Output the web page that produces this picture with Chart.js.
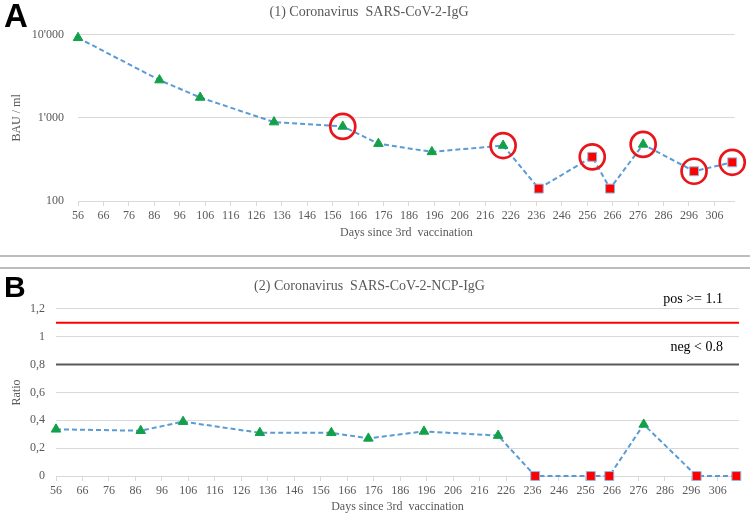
<!DOCTYPE html>
<html>
<head>
<meta charset="utf-8">
<script src="https://cdn.jsdelivr.net/npm/chart.js@4.4.1/dist/chart.umd.min.js"></script>
<style>
  html, body { margin: 0; padding: 0; background: #ffffff; }
  #wrap { position: relative; width: 750px; height: 517px; overflow: hidden; background: #fff; }
  canvas { position: absolute; left: 0; }
  #c1 { top: 0; }
  #c2 { top: 270px; }
  .sep { position: absolute; left: 0; width: 750px; height: 2px; background: #bdbdbd; }
  .panel { position: absolute; left: 4px; font-family: "Liberation Sans", Arial, sans-serif; font-weight: bold; color: #000; line-height: 1; z-index: 5; }
</style>
</head>
<body>
<div id="wrap">
  <canvas id="c1" width="750" height="255"></canvas>
  <div class="sep" style="top:255px"></div>
  <div class="sep" style="top:267px"></div>
  <canvas id="c2" width="750" height="247"></canvas>
  <div class="panel" style="top:-1px;font-size:33px;">A</div>
  <div class="panel" style="top:272px;font-size:30px;">B</div>
</div>
<script>
// ---- data ----
const days = [56, 88, 104, 133, 160, 174, 195, 223, 237, 258, 265, 278, 298, 313];
const iggBAU = [9200, 2850, 1760, 890, 790, 490, 390, 465, 141, 340, 141, 480, 228, 292];
const ncpRatio = [0.335, 0.325, 0.39, 0.31, 0.31, 0.27, 0.32, 0.29, 0, 0, 0, 0.37, 0, 0];
const belowCutoff = [false, false, false, false, false, false, false, false, true, true, true, false, true, true];
const circledDays = [160, 223, 258, 278, 298, 313];
const xTickLabels = [56, 66, 76, 86, 96, 106, 116, 126, 136, 146, 156, 166, 176, 186, 196, 206, 216, 226, 236, 246, 256, 266, 276, 286, 296, 306];
const xRange = [56, 314];
const iggTicks = [100, 1000, 10000];
const thresholdValues = [1.1, 0.8];
const thresholdLabels = ['pos >= 1.1', 'neg < 0.8'];
const thresholdLabelValues = [1.27, 0.92];

// ---- styling ----
const SERIF = "'Liberation Serif', 'Times New Roman', serif";
const GREY = '#595959';
const GRID = '#d9d9d9';
const LINE_BLUE = '#5b9bd5';
const GREEN = '#13a04a';
const RED = '#ff0000';

const pointStyles = belowCutoff.map(b => b ? 'rect' : 'triangle');
const pointBg = belowCutoff.map(b => b ? RED : GREEN);
const pointBorder = belowCutoff.map(b => b ? '#8fb8e0' : GREEN);
const pointRad = belowCutoff.map(b => b ? 6.3 : 5.5);

function xy(vals) { return days.map((d, i) => ({ x: d, y: vals[i] })); }
function circled(vals) { return days.map((d, i) => ({ x: d, y: vals[i] })).filter(p => circledDays.includes(p.x)); }
function fmtThousands(v) { return String(Math.round(v)).replace(/\B(?=(\d{3})+(?!\d))/g, "'"); }

function xScale(height, titlePadBottom) {
  return {
    type: 'linear', min: xRange[0], max: xRange[1],
    afterBuildTicks: s => { s.ticks = xTickLabels.map(v => ({ value: v })); },
    afterFit: s => { s.height = height; },
    grid: { display: true, drawOnChartArea: false, drawTicks: true, tickLength: 5, color: GRID },
    border: { display: true, color: GRID, width: 1 },
    ticks: { color: GREY, font: { family: SERIF, size: 12 }, autoSkip: false, maxRotation: 0, padding: 3 },
    title: { display: true, text: 'Days since 3rd  vaccination', color: GREY, font: { family: SERIF, size: 12 }, padding: { top: 0, bottom: titlePadBottom } }
  };
}

const lineDataset = (vals) => ({
  data: xy(vals),
  borderColor: LINE_BLUE, borderWidth: 2, borderDash: [5, 3],
  pointStyle: pointStyles, pointBackgroundColor: pointBg, pointBorderColor: pointBorder,
  pointBorderWidth: 1, pointRadius: pointRad, tension: 0, clip: false, order: 1
});

// ---- Chart A ----
new Chart(document.getElementById('c1'), {
  type: 'line',
  data: {
    datasets: [
      lineDataset(iggBAU),
      {
        data: circled(iggBAU), showLine: false,
        pointStyle: 'circle', pointRadius: 12.5, pointBorderWidth: 2.7,
        pointBorderColor: '#e8161c', pointBackgroundColor: 'rgba(0,0,0,0)', clip: false, order: 0
      }
    ]
  },
  options: {
    responsive: false, animation: false,
    layout: { padding: { left: 0, right: 12, top: 0, bottom: 0 } },
    plugins: {
      legend: { display: false }, tooltip: { enabled: false },
      title: { display: true, text: '(1) Coronavirus  SARS-CoV-2-IgG', color: GREY, font: { family: SERIF, size: 14, weight: 'normal' }, padding: { top: 4, bottom: 14 } }
    },
    scales: {
      x: xScale(54, 15),
      y: {
        type: 'logarithmic', min: 100, max: 10000,
        afterBuildTicks: s => { s.ticks = iggTicks.map(v => ({ value: v })); },
        afterFit: s => { s.width = 78; },
        grid: { color: GRID, drawTicks: false },
        border: { display: false },
        ticks: { color: GREY, font: { family: SERIF, size: 12 }, padding: 14, callback: v => fmtThousands(v) },
        title: { display: true, text: 'BAU / ml', color: GREY, font: { family: SERIF, size: 12 }, padding: { top: 10, bottom: 0 } }
      }
    }
  }
});

// ---- Chart B ----
const thresholdTextPlugin = {
  id: 'thresholdText',
  afterDatasetsDraw(chart) {
    const { ctx, chartArea, scales } = chart;
    ctx.save();
    ctx.fillStyle = '#000';
    ctx.font = "14px " + SERIF;
    ctx.textAlign = 'right';
    ctx.textBaseline = 'middle';
    thresholdLabels.forEach((t, i) => {
      ctx.fillText(t, chartArea.right - 16, scales.y.getPixelForValue(thresholdLabelValues[i]));
    });
    ctx.restore();
  }
};

new Chart(document.getElementById('c2'), {
  type: 'line',
  data: {
    datasets: [
      { data: xRange.map(x => ({ x, y: thresholdValues[0] })), borderColor: RED, borderWidth: 2, pointRadius: 0, order: 3 },
      { data: xRange.map(x => ({ x, y: thresholdValues[1] })), borderColor: '#595959', borderWidth: 2, pointRadius: 0, order: 3 },
      lineDataset(ncpRatio)
    ]
  },
  options: {
    responsive: false, animation: false,
    layout: { padding: { left: 0, right: 11, top: 0, bottom: 0 } },
    plugins: {
      legend: { display: false }, tooltip: { enabled: false },
      title: { display: true, text: '(2) Coronavirus  SARS-CoV-2-NCP-IgG', color: GREY, font: { family: SERIF, size: 14, weight: 'normal' }, padding: { top: 8, bottom: 14 } }
    },
    scales: {
      x: xScale(41, 3),
      y: {
        type: 'linear', min: 0, max: 1.2,
        ticks: { stepSize: 0.2, color: GREY, font: { family: SERIF, size: 12 }, padding: 11,
                 callback: v => String(Number(v.toFixed(1))).replace('.', ',') },
        afterFit: s => { s.width = 56; },
        grid: { color: GRID, drawTicks: false },
        border: { display: false },
        title: { display: true, text: 'Ratio', color: GREY, font: { family: SERIF, size: 12 }, padding: { top: 10, bottom: 0 } }
      }
    }
  },
  plugins: [thresholdTextPlugin]
});
</script>
</body>
</html>
